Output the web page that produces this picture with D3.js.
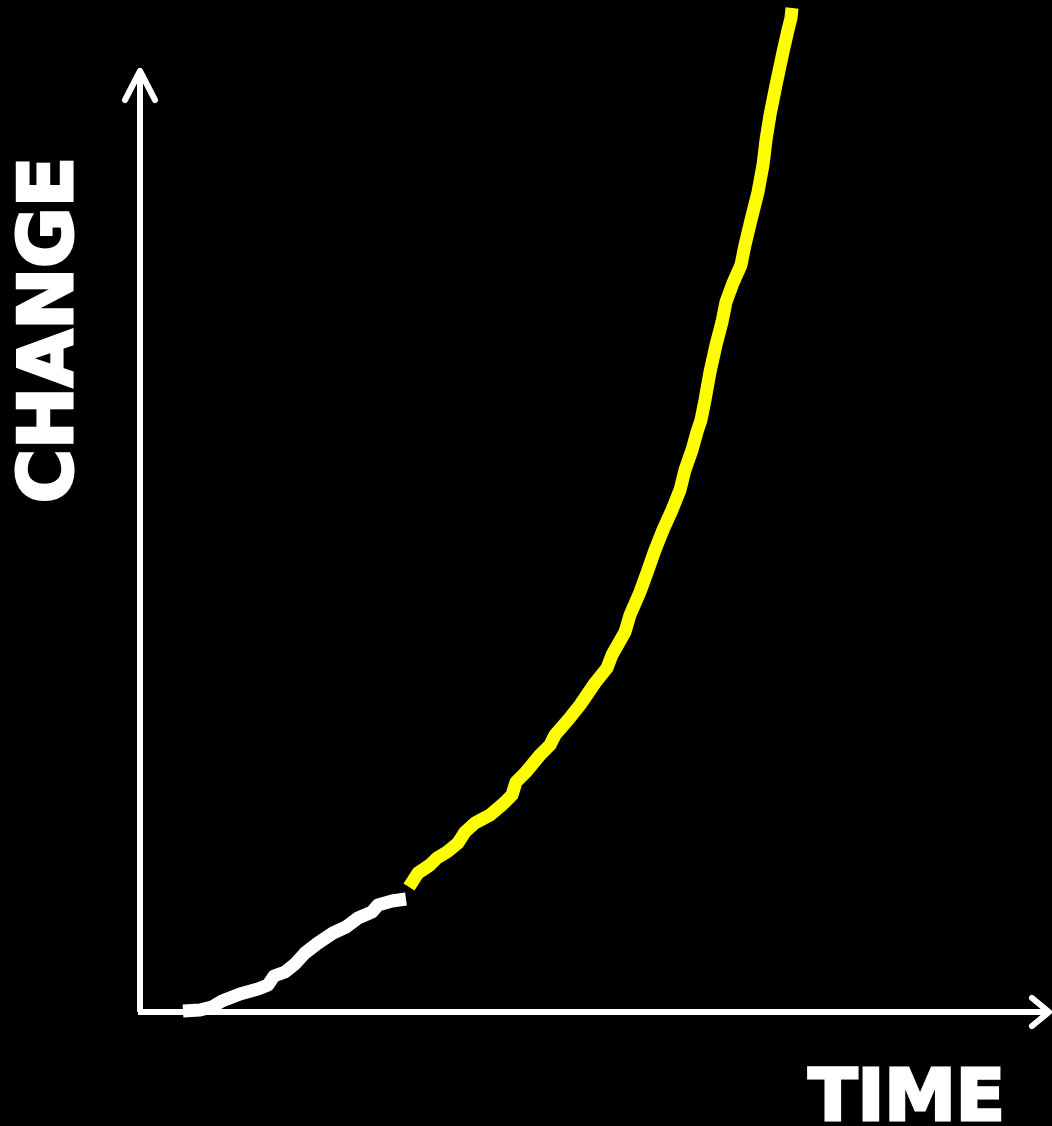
<!DOCTYPE html>
<html>
<head>
<meta charset="utf-8">
<script src="https://cdn.jsdelivr.net/npm/d3@7"></script>
<style>
  html, body { margin: 0; padding: 0; background: #000; }
  svg { display: block; }
</style>
</head>
<body>
<div id="chart"></div>
<script>
// past trend (white) and projected trend (yellow), time vs change
const pastTime   = [4.3, 6.0, 7.2, 8.2, 10.0, 11.8, 12.8, 13.4, 14.5, 15.5, 16.5, 17.8, 19.3, 20.6, 21.8, 23.2, 23.8, 25.2, 26.6];
const pastChange = [0.1, 0.2, 0.5, 1.1, 1.8, 2.3, 2.7, 3.6, 4.0, 4.8, 5.9, 6.9, 7.9, 8.5, 9.4, 10.0, 10.7, 11.1, 11.3];

const futureTime   = [26.9, 27.8, 29.0, 29.7, 30.7, 31.8, 32.5, 33.5, 35.0, 36.3, 37.2, 37.6, 38.6, 40.0, 41.0, 41.5,
                      42.8, 44.0, 45.5, 46.7, 47.2, 48.5, 49.0, 50.0, 50.8, 51.5, 52.3, 53.2, 54.0, 54.5, 55.2, 55.7,
                      56.1, 56.5, 57.0, 57.6, 58.2, 58.6, 59.3, 60.1, 60.5, 61.1, 61.8, 62.3, 62.6, 63.0, 63.6, 64.3,
                      64.8, 65.1, 65.2];
const futureChange = [12.5, 13.9, 14.7, 15.4, 16.0, 16.9, 18.0, 18.9, 19.7, 20.8, 21.7, 23.0, 24.0, 25.7, 26.7, 27.7,
                      29.2, 30.7, 32.9, 34.4, 35.7, 38.0, 39.7, 42.0, 44.2, 46.2, 48.2, 50.2, 52.2, 54.2, 56.2, 58.0,
                      59.2, 61.2, 64.0, 66.7, 69.0, 71.0, 72.9, 74.7, 76.7, 79.2, 82.0, 84.7, 87.2, 89.7, 92.7, 96.0,
                      98.2, 99.4, 100.4];

const xLabel = "TIME";
const yLabel = "CHANGE";

const width = 1052;
const height = 1126;

const svg = d3.select("#chart")
  .append("svg")
  .attr("width", width)
  .attr("height", height)
  .style("background", "#000");

const x = d3.scaleLinear().domain([0, 90]).range([140, 1040]);
const y = d3.scaleLinear().domain([0, 94]).range([1012, 72]);

// axes with arrow heads
const axes = svg.append("g")
  .attr("stroke", "#fff")
  .attr("stroke-width", 6)
  .attr("fill", "none")
  .attr("stroke-linecap", "round")
  .attr("stroke-linejoin", "round");

axes.append("line")
  .attr("x1", x(0)).attr("y1", y(0))
  .attr("x2", x(0)).attr("y2", y(94) - 2)
  .attr("stroke-linecap", "butt");
axes.append("path")
  .attr("d", `M${x(0) - 15},${y(94) + 28}L${x(0)},${y(94) - 1}L${x(0) + 15},${y(94) + 28}`);

axes.append("line")
  .attr("x1", x(0) - 2).attr("y1", y(0))
  .attr("x2", x(90) + 8).attr("y2", y(0))
  .attr("stroke-linecap", "butt");
axes.append("path")
  .attr("d", `M${x(90) - 8},${y(0) - 14}L${x(90) + 9},${y(0)}L${x(90) - 8},${y(0) + 14}`);

const line = d3.line()
  .x(d => x(d[0]))
  .y(d => y(d[1]))
  .curve(d3.curveLinear);

const past = pastTime.map((t, i) => [t, pastChange[i]]);
const future = futureTime.map((t, i) => [t, futureChange[i]]);

svg.append("path")
  .datum(past)
  .attr("d", line)
  .attr("fill", "none")
  .attr("stroke", "#fff")
  .attr("stroke-width", 13)
  .attr("stroke-linejoin", "round");

svg.append("path")
  .datum(future)
  .attr("d", line)
  .attr("fill", "none")
  .attr("stroke", "#ffff00")
  .attr("stroke-width", 13)
  .attr("stroke-linejoin", "round");

// labels (a thin stroke makes the bold face look heavier)
svg.append("text")
  .attr("x", 1005)
  .attr("y", 1120)
  .attr("text-anchor", "end")
  .attr("fill", "#fff")
  .attr("stroke", "#fff")
  .attr("stroke-width", 3)
  .style("font", "bold 72px 'DejaVu Sans'")
  .text(xLabel);

svg.append("text")
  .attr("transform", "translate(72,330) rotate(-90)")
  .attr("text-anchor", "middle")
  .attr("fill", "#fff")
  .attr("stroke", "#fff")
  .attr("stroke-width", 3)
  .style("font", "bold 74px 'DejaVu Sans'")
  .text(yLabel);
</script>
</body>
</html>
